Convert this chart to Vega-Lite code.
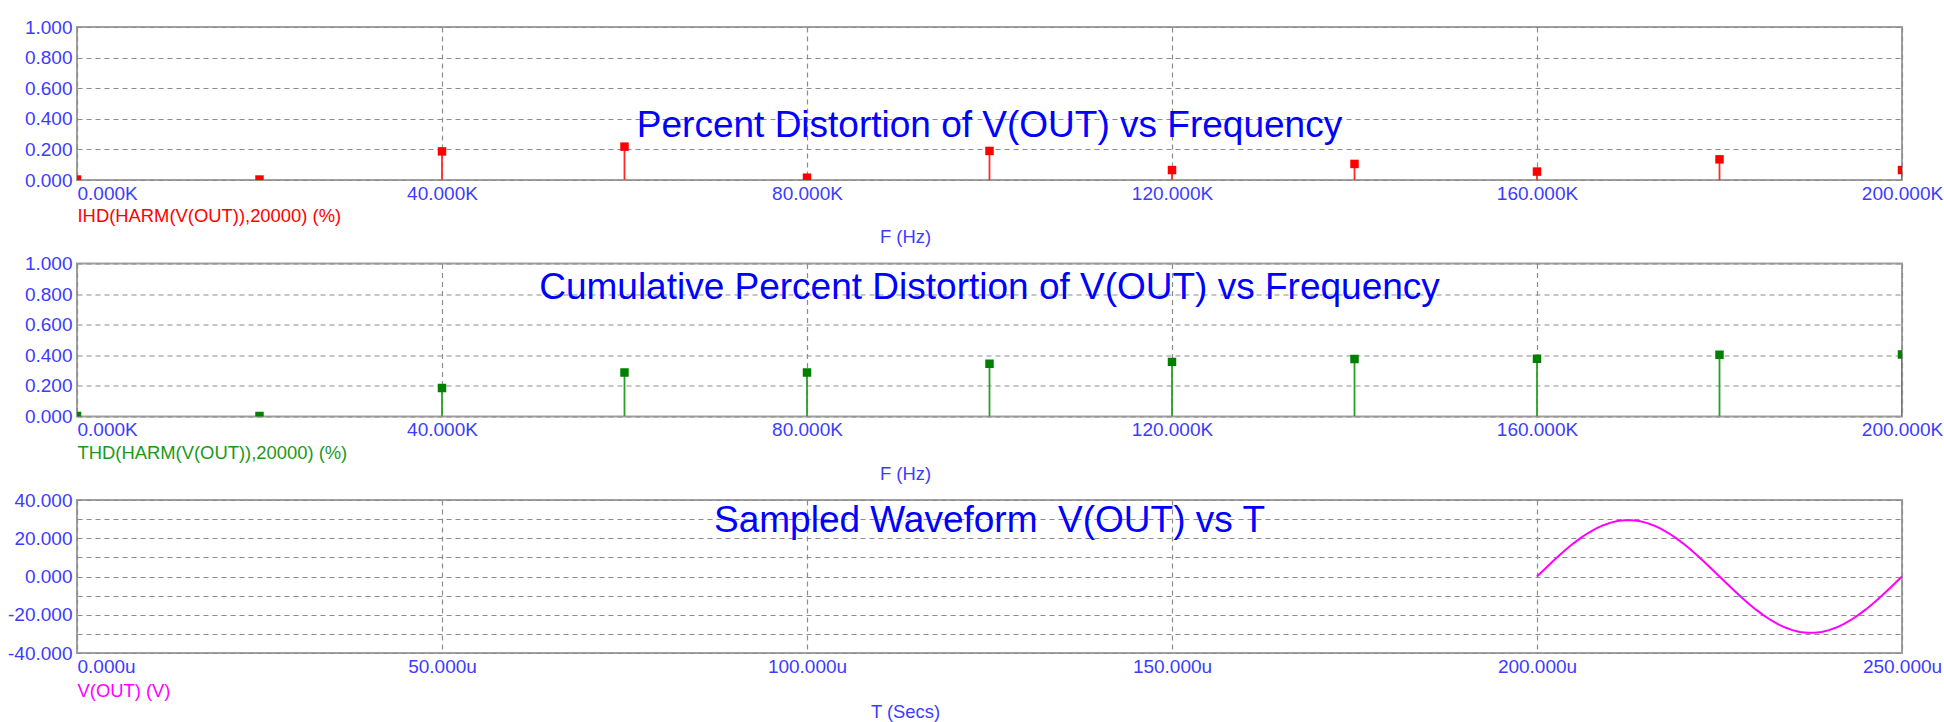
{
  "$schema": "https://vega.github.io/schema/vega-lite/v6.json",
  "background": "white",
  "padding": {"left": 6, "top": 17, "right": 0, "bottom": 0},
  "spacing": 83.5,
  "bounds": "flush",
  "config": {
    "font": "Liberation Sans",
    "view": {"stroke": "#A0A0A0", "strokeWidth": 2},
    "axis": {
      "domain": false,
      "ticks": false,
      "labelFont": "Liberation Sans",
      "labelFontSize": 19,
      "labelColor": "#3C3CFF",
      "gridColor": "#8C8C8C",
      "gridDash": [5, 4],
      "gridWidth": 1.2,
      "gridOpacity": 1,
      "titleFont": "Liberation Sans",
      "titleFontSize": 18.4,
      "titleFontWeight": "normal"
    },
    "title": {"font": "Liberation Sans", "fontSize": 37, "fontWeight": "normal", "color": "#0000FF", "anchor": "middle"}
  },
  "vconcat": [
    {
      "width": 1825,
      "height": 153,
      "title": {"text": "Percent Distortion of V(OUT) vs Frequency", "offset": -126.5},
      "data": {"values": [
        {"f": 0, "ihd": 0.003},
        {"f": 20000, "ihd": 0.003},
        {"f": 40000, "ihd": 0.187},
        {"f": 60000, "ihd": 0.218},
        {"f": 80000, "ihd": 0.015},
        {"f": 100000, "ihd": 0.19},
        {"f": 120000, "ihd": 0.065},
        {"f": 140000, "ihd": 0.105},
        {"f": 160000, "ihd": 0.055},
        {"f": 180000, "ihd": 0.135},
        {"f": 200000, "ihd": 0.065}
      ]},
      "encoding": {
        "x": {"field": "f", "type": "quantitative",
          "scale": {"domain": [0, 200000], "nice": false},
          "axis": {"values": [0, 40000, 80000, 120000, 160000, 200000],
            "labelExpr": "format(datum.value / 1000, '.3f') + 'K'",
            "labelAlign": {"condition": {"test": "datum.value == 0", "value": "left"}, "value": "center"},
            "labelBaseline": "top", "labelPadding": 4, "grid": true,
            "title": "F (Hz)", "titleColor": "#3C3CFF", "titleX": 828, "titleY": 56, "titleAlign": "center", "titleBaseline": "middle"}},
        "y": {"field": "ihd", "type": "quantitative",
          "scale": {"domain": [0, 1], "nice": false},
          "axis": {"values": [0, 0.2, 0.4, 0.6, 0.8, 1], "format": ".3f", "labelPadding": 5, "grid": true,
            "title": "IHD(HARM(V(OUT)),20000) (%)", "titleColor": "#FF0000", "titleAngle": 0,
            "titleAlign": "left", "titleBaseline": "middle", "titleX": 0, "titleY": 188.5}}
      },
      "layer": [
        {"mark": {"type": "rule", "color": "#FF2A2A", "strokeWidth": 1.8, "clip": true},
         "encoding": {"y2": {"datum": 0}}},
        {"mark": {"type": "point", "shape": "square", "filled": true, "size": 72, "color": "#FF0000", "opacity": 1, "clip": true}}
      ]
    },
    {
      "width": 1825,
      "height": 153,
      "title": {"text": "Cumulative Percent Distortion of V(OUT) vs Frequency", "offset": -52.5},
      "data": {"values": [
        {"f": 0, "thd": 0.003},
        {"f": 20000, "thd": 0.003},
        {"f": 40000, "thd": 0.187},
        {"f": 60000, "thd": 0.287},
        {"f": 80000, "thd": 0.287},
        {"f": 100000, "thd": 0.345},
        {"f": 120000, "thd": 0.357},
        {"f": 140000, "thd": 0.376},
        {"f": 160000, "thd": 0.377},
        {"f": 180000, "thd": 0.404},
        {"f": 200000, "thd": 0.405}
      ]},
      "encoding": {
        "x": {"field": "f", "type": "quantitative",
          "scale": {"domain": [0, 200000], "nice": false},
          "axis": {"values": [0, 40000, 80000, 120000, 160000, 200000],
            "labelExpr": "format(datum.value / 1000, '.3f') + 'K'",
            "labelAlign": {"condition": {"test": "datum.value == 0", "value": "left"}, "value": "center"},
            "labelBaseline": "top", "labelPadding": 4, "grid": true,
            "title": "F (Hz)", "titleColor": "#3C3CFF", "titleX": 828, "titleY": 57, "titleAlign": "center", "titleBaseline": "middle"}},
        "y": {"field": "thd", "type": "quantitative",
          "scale": {"domain": [0, 1], "nice": false},
          "axis": {"values": [0, 0.2, 0.4, 0.6, 0.8, 1], "format": ".3f", "labelPadding": 5, "grid": true,
            "title": "THD(HARM(V(OUT)),20000) (%)", "titleColor": "#1A9A1A", "titleAngle": 0,
            "titleAlign": "left", "titleBaseline": "middle", "titleX": 0, "titleY": 189}}
      },
      "layer": [
        {"mark": {"type": "rule", "color": "#2AA02A", "strokeWidth": 1.8, "clip": true},
         "encoding": {"y2": {"datum": 0}}},
        {"mark": {"type": "point", "shape": "square", "filled": true, "size": 72, "color": "#008000", "opacity": 1, "clip": true}}
      ]
    },
    {
      "width": 1825,
      "height": 153,
      "title": {"text": "Sampled Waveform\u00a0 V(OUT) vs T", "offset": -48.7},
      "data": {"values": [
        {"t": 200, "v": 0}, {"t": 201, "v": 3.7}, {"t": 202, "v": 7.34}, {"t": 203, "v": 10.86},
        {"t": 204, "v": 14.21}, {"t": 205, "v": 17.34}, {"t": 206, "v": 20.19}, {"t": 207, "v": 22.73},
        {"t": 208, "v": 24.91}, {"t": 209, "v": 26.69}, {"t": 210, "v": 28.06}, {"t": 211, "v": 28.98},
        {"t": 212, "v": 29.44}, {"t": 213, "v": 29.44}, {"t": 214, "v": 28.98}, {"t": 215, "v": 28.06},
        {"t": 216, "v": 26.69}, {"t": 217, "v": 24.91}, {"t": 218, "v": 22.73}, {"t": 219, "v": 20.19},
        {"t": 220, "v": 17.34}, {"t": 221, "v": 14.21}, {"t": 222, "v": 10.86}, {"t": 223, "v": 7.34},
        {"t": 224, "v": 3.7}, {"t": 225, "v": 0}, {"t": 226, "v": -3.7}, {"t": 227, "v": -7.34},
        {"t": 228, "v": -10.86}, {"t": 229, "v": -14.21}, {"t": 230, "v": -17.34}, {"t": 231, "v": -20.19},
        {"t": 232, "v": -22.73}, {"t": 233, "v": -24.91}, {"t": 234, "v": -26.69}, {"t": 235, "v": -28.06},
        {"t": 236, "v": -28.98}, {"t": 237, "v": -29.44}, {"t": 238, "v": -29.44}, {"t": 239, "v": -28.98},
        {"t": 240, "v": -28.06}, {"t": 241, "v": -26.69}, {"t": 242, "v": -24.91}, {"t": 243, "v": -22.73},
        {"t": 244, "v": -20.19}, {"t": 245, "v": -17.34}, {"t": 246, "v": -14.21}, {"t": 247, "v": -10.86},
        {"t": 248, "v": -7.34}, {"t": 249, "v": -3.7}, {"t": 250, "v": 0}
      ]},
      "mark": {"type": "line", "color": "#FF00FF", "strokeWidth": 2, "clip": true},
      "encoding": {
        "x": {"field": "t", "type": "quantitative",
          "scale": {"domain": [0, 250], "nice": false},
          "axis": {"values": [0, 50, 100, 150, 200, 250],
            "labelExpr": "format(datum.value, '.3f') + 'u'",
            "labelAlign": {"condition": {"test": "datum.value == 0", "value": "left"}, "value": "center"},
            "labelBaseline": "top", "labelPadding": 4, "grid": true,
            "title": "T (Secs)", "titleColor": "#3C3CFF", "titleX": 828, "titleY": 58, "titleAlign": "center", "titleBaseline": "middle"}},
        "y": {"field": "v", "type": "quantitative",
          "scale": {"domain": [-40, 40], "nice": false},
          "axis": {"values": [-40, -30, -20, -10, 0, 10, 20, 30, 40],
            "labelExpr": "datum.value % 20 == 0 ? (datum.value < 0 ? '-' : '') + format(abs(datum.value), '.3f') : ''",
            "labelPadding": 5, "grid": true,
            "title": "V(OUT) (V)", "titleColor": "#FF00FF", "titleAngle": 0,
            "titleAlign": "left", "titleBaseline": "middle", "titleX": 0, "titleY": 190}}
      }
    }
  ]
}
